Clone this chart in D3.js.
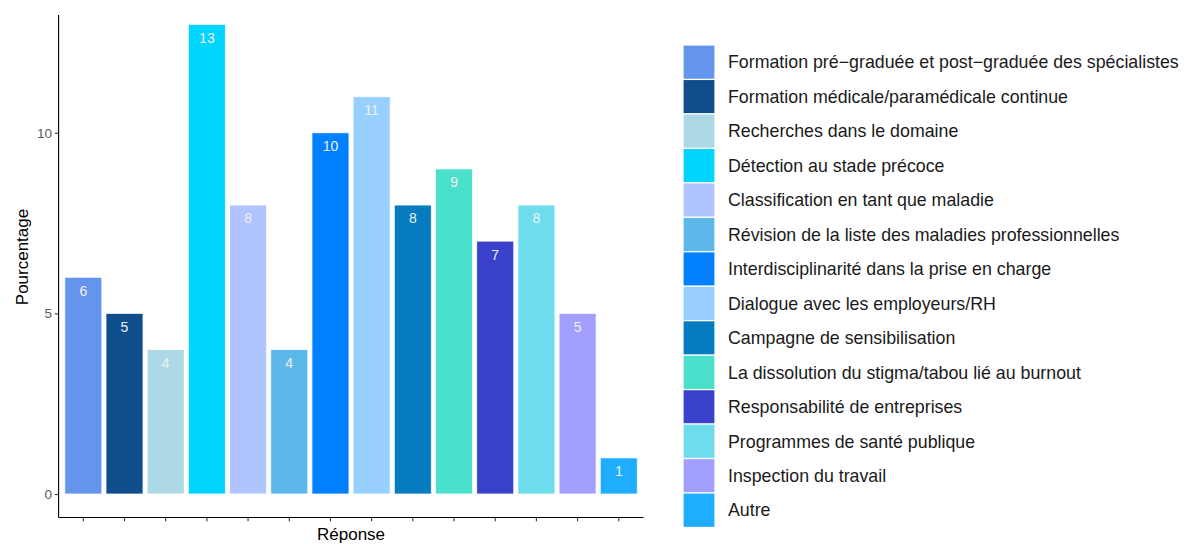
<!DOCTYPE html>
<html>
<head>
<meta charset="utf-8">
<script src="https://cdn.jsdelivr.net/npm/d3@7"></script>
<style>
  html, body { margin: 0; padding: 0; background: #fff; }
  svg { display: block; font-family: "Liberation Sans", Arial, sans-serif; }
</style>
</head>
<body>
<svg id="chart" width="1184" height="544"></svg>
<script>
// Response categories, in plotting order
const categories = [
  "Formation pré−graduée et post−graduée des spécialistes",
  "Formation médicale/paramédicale continue",
  "Recherches dans le domaine",
  "Détection au stade précoce",
  "Classification en tant que maladie",
  "Révision de la liste des maladies professionnelles",
  "Interdisciplinarité dans la prise en charge",
  "Dialogue avec les employeurs/RH",
  "Campagne de sensibilisation",
  "La dissolution du stigma/tabou lié au burnout",
  "Responsabilité de entreprises",
  "Programmes de santé publique",
  "Inspection du travail",
  "Autre"
];

// Percentage of respondents per category
const values = [6, 5, 4, 13, 8, 4, 10, 11, 8, 9, 7, 8, 5, 1];

// Fill colour per category
const colors = [
  "#6495ED", "#104E8B", "#ADD8E6", "#00D5FF", "#B0C4FF", "#5DB8EA", "#0080FF",
  "#97D0FF", "#077BC0", "#4BE0CC", "#3A42CB", "#6DDCEC", "#A39FFF", "#1EADFF"
];

const yTicks = [0, 5, 10];

const data = categories.map((c, i) => ({ cat: c, value: values[i], color: colors[i] }));

const svg = d3.select("#chart");

// Plot panel
const panel = { left: 58.6, right: 643.5, top: 15, bottom: 517.5 };

const x = d3.scaleBand()
  .domain(categories)
  .range([panel.left, panel.right])
  .paddingInner(0.1)
  .paddingOuter(0.15);

const y = d3.scaleLinear()
  .domain([-0.65, 13.26])
  .range([panel.bottom, panel.top]);

// Bars
svg.append("g")
  .selectAll("rect")
  .data(data)
  .join("rect")
  .attr("x", d => x(d.cat))
  .attr("y", d => y(d.value))
  .attr("width", x.bandwidth())
  .attr("height", d => y(0) - y(d.value))
  .attr("fill", d => d.color)
  .attr("stroke", "#ffffff")
  .attr("stroke-opacity", 0.8)
  .attr("stroke-width", 1);

// Value labels inside the top of each bar
svg.append("g")
  .selectAll("text")
  .data(data)
  .join("text")
  .attr("x", d => x(d.cat) + x.bandwidth() / 2)
  .attr("y", d => y(d.value) + 13.5)
  .attr("dy", "0.35em")
  .attr("text-anchor", "middle")
  .attr("font-size", 14)
  .attr("fill", "#F0F0F0")
  .text(d => d.value);

// Y axis
const yAxis = svg.append("g")
  .attr("transform", `translate(${panel.left},0)`)
  .call(d3.axisLeft(y).tickValues(yTicks).tickSize(3.7).tickPadding(3).tickFormat(d3.format("d")));
yAxis.select(".domain").attr("d", `M0,${panel.top}V${panel.bottom}`).attr("stroke", "#000").attr("stroke-width", 1.1);
yAxis.selectAll(".tick line").attr("stroke", "#333333").attr("stroke-width", 1.1);
yAxis.selectAll(".tick text").attr("fill", "#5A5A5A").attr("font-size", 13.5)
  .attr("font-family", "Liberation Sans, Arial, sans-serif");

// X axis (ticks only, no tick labels)
const xAxis = svg.append("g")
  .attr("transform", `translate(0,${panel.bottom})`)
  .call(d3.axisBottom(x).tickSize(3.7).tickFormat(""));
xAxis.select(".domain").attr("d", `M${panel.left},0H${panel.right}`).attr("stroke", "#000").attr("stroke-width", 1.1);
xAxis.selectAll(".tick line").attr("stroke", "#333333").attr("stroke-width", 1.1);

// Axis titles
svg.append("text")
  .attr("x", (panel.left + panel.right) / 2)
  .attr("y", 534)
  .attr("dy", "0.35em")
  .attr("text-anchor", "middle")
  .attr("font-size", 17)
  .attr("fill", "#000")
  .text("Réponse");

svg.append("text")
  .attr("transform", `translate(22,257) rotate(-90)`)
  .attr("dy", "0.35em")
  .attr("text-anchor", "middle")
  .attr("font-size", 17)
  .attr("fill", "#000")
  .text("Pourcentage");

// Legend
const legend = { x: 683, y: 45, key: 32, row: 34.46 };
const items = svg.append("g")
  .selectAll("g")
  .data(data)
  .join("g")
  .attr("transform", (d, i) => `translate(${legend.x},${legend.y + i * legend.row})`);

items.append("rect")
  .attr("width", legend.key)
  .attr("height", legend.row)
  .attr("fill", d => d.color)
  .attr("stroke", "#ffffff")
  .attr("stroke-width", 1.2);

items.append("text")
  .attr("x", 45)
  .attr("y", legend.row / 2)
  .attr("dy", "0.35em")
  .attr("font-size", 17.8)
  .attr("fill", "#1a1a1a")
  .text(d => d.cat);
</script>
</body>
</html>
